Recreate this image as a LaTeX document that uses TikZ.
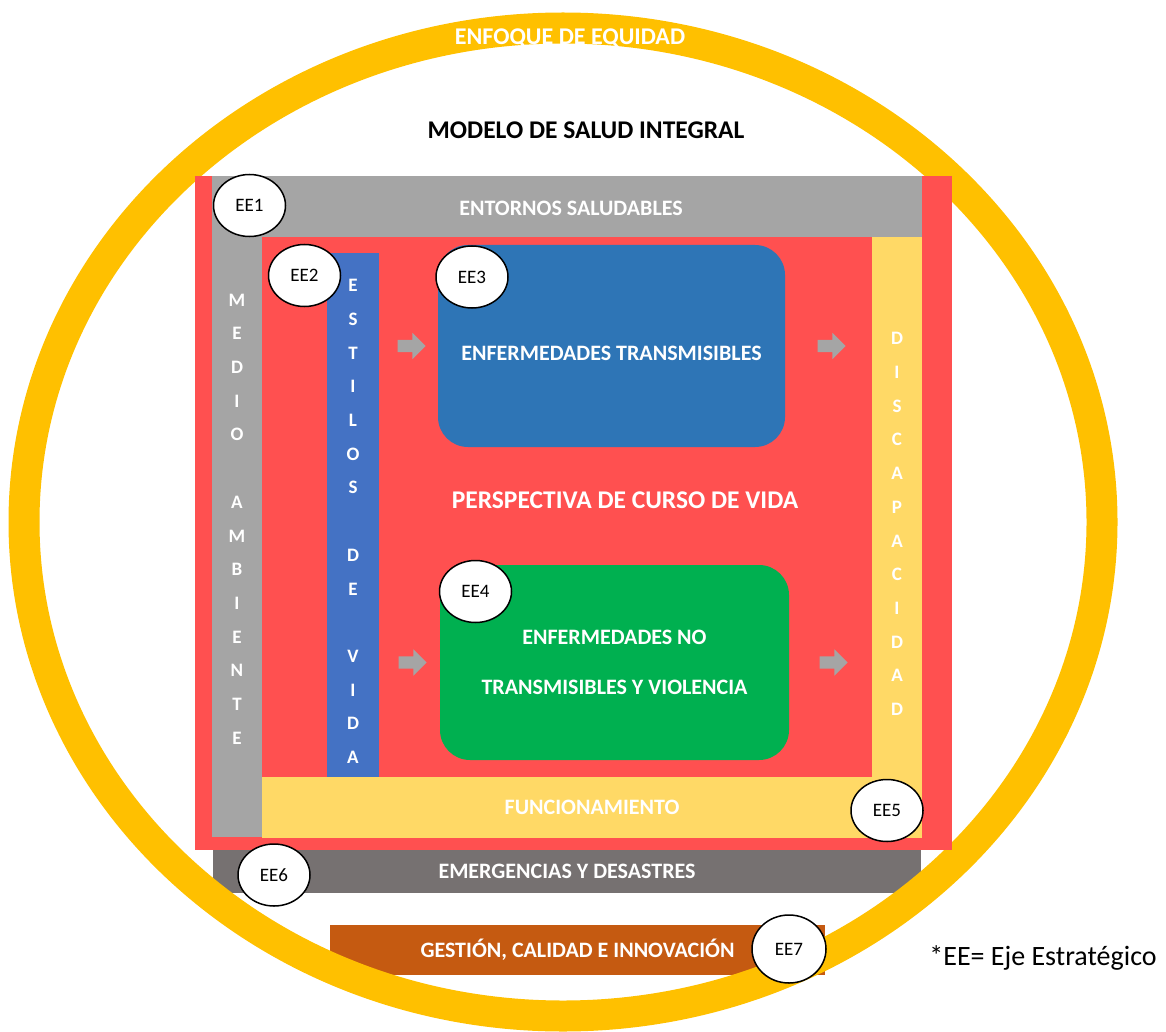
\documentclass[tikz,border=0pt]{standalone}
\usepackage{fontspec}
\setmainfont{Carlito}
\usetikzlibrary{shapes, arrows, calc, shapes.geometric, shapes.arrows}
\definecolor{amarillo}{HTML}{FFC000}
\definecolor{rojo}{HTML}{FF5050}
\definecolor{gris}{HTML}{A5A5A5}
\definecolor{azulclaro}{HTML}{4472C4}
\definecolor{azul}{HTML}{2E75B6}
\definecolor{verde}{HTML}{00B050}
\definecolor{crema}{HTML}{FFD966}
\definecolor{grisosc}{HTML}{767171}
\definecolor{naranja}{HTML}{C55A11}
\tikzstyle{band}=[draw=none, inner sep=0pt, outer sep=0pt, text=white,
    font=\fontsize{22}{26}\selectfont\bfseries]
\tikzstyle{strip}=[text=white, align=center, inner sep=0pt,
    font=\fontsize{19}{33.7}\selectfont\bfseries]
\tikzstyle{box}=[band, rounded corners=30pt, align=center]
\tikzstyle{ee}=[ellipse, draw=black, line width=1.5pt, fill=white,
    inner sep=0pt, minimum width=72pt, minimum height=62pt,
    font=\fontsize{19}{20}\selectfont]
\tikzstyle{flecha}=[single arrow, fill=gris, draw=none, inner xsep=0pt,
    inner ysep=6pt, minimum height=28pt, single arrow head extend=7pt,
    single arrow head indent=0pt]
\tikzstyle{aro}=[draw=amarillo, line width=31pt]
\def\lsep{33.7pt}

\begin{document}
\begin{tikzpicture}[x=1pt, y=-1pt]
    \useasboundingbox (0,0) rectangle (1166,1032);
    \path (567,871.5) node (emerg) [band, fill=grisosc, minimum width=708pt,
        minimum height=43pt] {EMERGENCIAS Y DESASTRES};
    \path (577.5,950) node (gest) [band, fill=naranja, minimum width=495pt,
        minimum height=50pt] {GESTIÓN, CALIDAD E INNOVACIÓN};
    \draw [aro] (563,522) ellipse [x radius=539pt, y radius=494pt];
    \path (570,38) node (equidad) [band, font=\fontsize{24}{28}\selectfont\bfseries]
        {ENFOQUE DE EQUIDAD};
    \path (586,130) node (modelo) [font=\fontsize{25.5}{30}\selectfont\bfseries]
        {MODELO DE SALUD INTEGRAL};
    \path (573.5,513) node (base) [band, fill=rojo, minimum width=757pt,
        minimum height=674pt] {};
    \path (567,206.5) node (entornos) [band, fill=gris, minimum width=710pt,
        minimum height=61pt] {};
    \path (entornos.center)+(4,2) node (entxt) [band] {ENTORNOS SALUDABLES};
    \path (237,537) node (mediobar) [band, fill=gris, minimum width=50pt,
        minimum height=600pt] {};
    \path (897,537.5) node (discapbar) [band, fill=crema, minimum width=50pt,
        minimum height=601pt] {};
    \path (592,807.5) node (func) [band, fill=crema, minimum width=660pt,
        minimum height=61pt] {FUNCIONAMIENTO};
    \path (353,515) node (estilosbar) [band, fill=azulclaro, minimum width=52pt,
        minimum height=524pt] {};
    \path (mediobar.center)+(0,-18) node (medio) [strip]
        {M\\E\\D\\I\\O\\[\lsep]A\\M\\B\\I\\E\\N\\T\\E};
    \path (estilosbar.center)+(0,6.5) node (estilos) [strip]
        {E\\S\\T\\I\\L\\O\\S\\[\lsep]D\\E\\[\lsep]V\\I\\D\\A};
    \path (discapbar.center)+(0,-13.5) node (discap) [strip]
        {D\\I\\S\\C\\A\\P\\A\\C\\I\\D\\A\\D};
    \path (611.5,346) node (trans) [box, fill=azul, minimum width=347pt,
        minimum height=202pt] {};
    \path (trans.center)+(0,7) node (trtxt) [band] {ENFERMEDADES TRANSMISIBLES};
    \path (614.5,662.5) node (notrans) [box, fill=verde, minimum width=349pt,
        minimum height=195pt, font=\fontsize{22}{50}\selectfont\bfseries]
        {ENFERMEDADES NO\\TRANSMISIBLES Y VIOLENCIA};
    \path (625,500) node (persp) [band, font=\fontsize{25.5}{30}\selectfont\bfseries]
        {PERSPECTIVA DE CURSO DE VIDA};
    \path ($(estilosbar.east |- trans.center)!0.5!(trans.west)$) node (f1) [flecha] {};
    \path ($(trans.east)!0.5!(discapbar.west |- trans.center)$) node (f2) [flecha] {};
    \path ($(estilosbar.east |- notrans.center)!0.5!(notrans.west)$) node (f3) [flecha] {};
    \path ($(notrans.east)!0.5!(discapbar.west |- notrans.center)$) node (f4) [flecha] {};
    \path (249.5,205.5) node (ee1) [ee] {EE1};
    \path (304.5,275.5) node (ee2) [ee] {EE2};
    \path (472,277) node (ee3) [ee] {EE3};
    \path (475.5,591.5) node (ee4) [ee] {EE4};
    \path (887,810.5) node (ee5) [ee] {EE5};
    \path (274,875) node (ee6) [ee] {EE6};
    \path (789,949) node (ee7) [ee, minimum width=74pt, minimum height=68pt] {EE7};
    \path (1043,958) node (nota) [font=\fontsize{28}{32}\selectfont]
        {*EE= Eje Estratégico};
\end{tikzpicture}
\end{document}
